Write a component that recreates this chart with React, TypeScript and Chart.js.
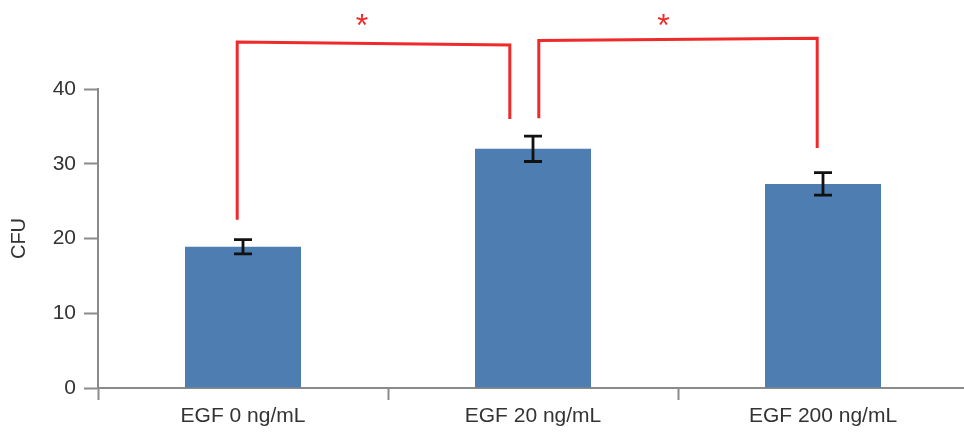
import React, { useEffect, useRef } from "react";
import { Chart, registerables } from "chart.js";

Chart.register(...registerables);

const categories = ["EGF 0 ng/mL", "EGF 20 ng/mL", "EGF 200 ng/mL"];
const cfuValues = [18.9, 32.0, 27.3];
const cfuErrors = [0.95, 1.7, 1.5];
const yTicks = [0, 10, 20, 30, 40];

// Significance brackets: x in category units (index + fraction), y in CFU units
const bracketXLeft = [-0.02, 1.02];
const bracketXRight = [0.92, 1.98];
const bracketYLeftBottom = [22.5, 36.1];
const bracketYLeftTop = [46.3, 46.5];
const bracketYRightTop = [45.9, 46.8];
const bracketYRightBottom = [36.0, 32.1];
const starX = [0.41, 1.45];
const starY = [49.0, 49.0];
const starLabels = ["*", "*"];

const annotationPlugin = {
  id: "annotations",
  afterDatasetsDraw(chart: any) {
    const { ctx } = chart;
    const xs = chart.scales.x;
    const ys = chart.scales.y;
    const x0 = xs.getPixelForValue(0);
    const step = xs.getPixelForValue(1) - x0;
    const px = (f: number) => x0 + f * step;
    ctx.save();
    // error bars
    ctx.strokeStyle = "#111111";
    ctx.lineWidth = 2.8;
    cfuValues.forEach((v, i) => {
      const cx = xs.getPixelForValue(i);
      const yTop = ys.getPixelForValue(v + cfuErrors[i]);
      const yBot = ys.getPixelForValue(v - cfuErrors[i]);
      const hw = 9;
      ctx.beginPath();
      ctx.moveTo(cx, yTop);
      ctx.lineTo(cx, yBot);
      ctx.moveTo(cx - hw, yTop);
      ctx.lineTo(cx + hw, yTop);
      ctx.moveTo(cx - hw, yBot);
      ctx.lineTo(cx + hw, yBot);
      ctx.stroke();
    });
    // brackets
    ctx.strokeStyle = "#ee2a2a";
    ctx.lineWidth = 3;
    ctx.lineJoin = "miter";
    bracketXLeft.forEach((xl, i) => {
      const xr = bracketXRight[i];
      ctx.beginPath();
      ctx.moveTo(px(xl), ys.getPixelForValue(bracketYLeftBottom[i]));
      ctx.lineTo(px(xl), ys.getPixelForValue(bracketYLeftTop[i]));
      ctx.lineTo(px(xr), ys.getPixelForValue(bracketYRightTop[i]));
      ctx.lineTo(px(xr), ys.getPixelForValue(bracketYRightBottom[i]));
      ctx.stroke();
    });
    // stars
    ctx.fillStyle = "#ee2a2a";
    ctx.font = "32px 'Liberation Sans', Arial, sans-serif";
    ctx.textAlign = "center";
    ctx.textBaseline = "middle";
    starX.forEach((sx, i) => {
      ctx.fillText(starLabels[i], px(sx), ys.getPixelForValue(starY[i]) + 5);
    });
    ctx.restore();
  },
};

export default function App() {
  const ref = useRef<HTMLCanvasElement | null>(null);
  useEffect(() => {
    if (!ref.current) return;
    const axisColor = "#8a8a8a";
    const font = { family: "'Liberation Sans', Arial, sans-serif", size: 21 };
    const chart = new Chart(ref.current, {
      type: "bar",
      data: {
        labels: categories,
        datasets: [
          {
            data: cfuValues,
            backgroundColor: "#4e7db2",
            borderWidth: 0,
            barPercentage: 0.4,
            categoryPercentage: 1,
          },
        ],
      },
      options: {
        animation: false,
        responsive: true,
        maintainAspectRatio: false,
        layout: { padding: { top: 89, left: 0, right: 0, bottom: 0 } },
        plugins: { legend: { display: false }, tooltip: { enabled: false } },
        scales: {
          x: {
            offset: true,
            grid: {
              offset: true,
              drawOnChartArea: false,
              drawTicks: true,
              tickLength: 12,
              tickColor: axisColor,
              tickWidth: 2,
              color: axisColor,
            },
            border: { display: true, color: axisColor, width: 2 },
            ticks: { color: "#333333", font, padding: 4, maxRotation: 0 },
            afterFit: (s: any) => {
              s.height = 44;
            },
          },
          y: {
            min: 0,
            max: 40,
            afterBuildTicks: (s: any) => {
              s.ticks = yTicks.map((v) => ({ value: v }));
            },
            grid: {
              drawOnChartArea: false,
              drawTicks: true,
              tickLength: 14,
              tickColor: axisColor,
              tickWidth: 2,
              color: axisColor,
            },
            border: { display: true, color: axisColor, width: 2 },
            ticks: { color: "#333333", font, padding: 8 },
            title: {
              display: true,
              text: "CFU",
              color: "#333333",
              font: { family: "'Liberation Sans', Arial, sans-serif", size: 20 },
              padding: { top: 7, bottom: 0 },
            },
            afterFit: (s: any) => {
              s.width = 98;
            },
          },
        },
      },
      plugins: [annotationPlugin],
    });
    return () => chart.destroy();
  }, []);
  return (
    <div style={{ position: "fixed", left: 0, top: 0, width: 964, height: 432, overflow: "hidden", background: "#fff" }}>
      <div style={{ position: "relative", width: 968, height: 432 }}>
        <canvas ref={ref} />
      </div>
    </div>
  );
}
